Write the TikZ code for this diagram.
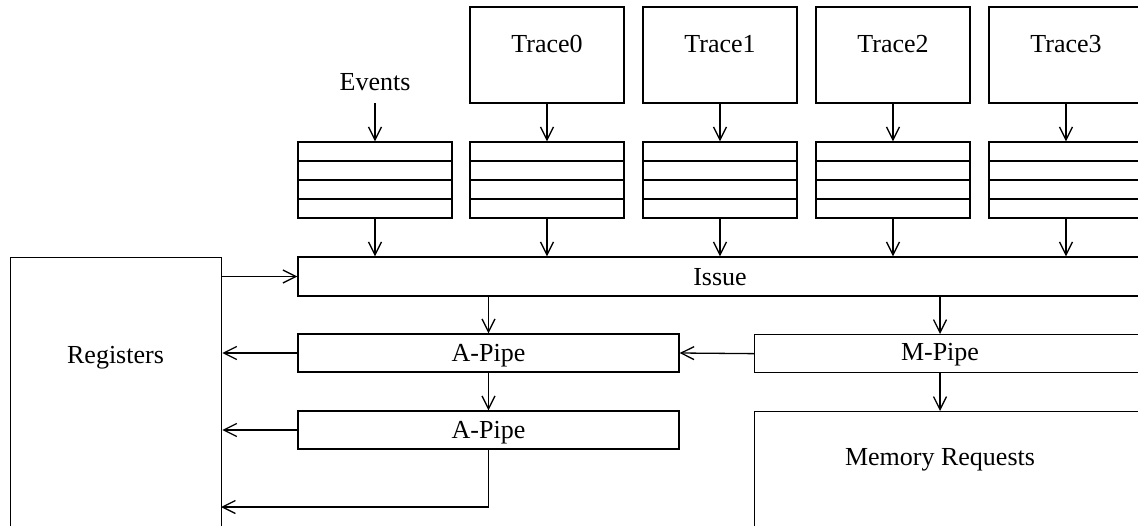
\documentclass[tikz,border=0pt]{standalone}
\usepackage{fontspec}
\setmainfont{Liberation Serif}
\usetikzlibrary{arrows.meta, calc}

\begin{document}
\begin{tikzpicture}[
    x=1pt, y=-1pt,
    box/.style={draw, line width=1.3pt, inner sep=0pt},
    txt/.style={font=\fontsize{26}{30}\selectfont, text height=17pt,
        text depth=0pt, inner sep=0pt},
    arr/.style={line width=1.3pt, -{Straight Barb[length=13pt, width=13pt]}},
    slot/.style={line width=1.8pt},
]
    \useasboundingbox (0,0) rectangle (1138,525);
    \clip (0,0) rectangle (1138,525);

    %% register file on the left, it runs off the bottom
    \node[box, anchor=north west, minimum width=211pt, minimum height=300pt]
        (regs) at (10,257) {};
    \node[txt] (regslbl) at (115.5,355) {Registers};

    %% issue stage and the pipes
    \node[box, txt, minimum width=844pt, minimum height=39pt]
        (issue) at (720,276.5) {Issue};
    \node[box, txt, minimum width=381pt, minimum height=38pt]
        (apipe1) at (488.5,353) {A-Pipe};
    \node[box, txt, minimum width=381pt, minimum height=38pt]
        (apipe2) at (488.5,430) {A-Pipe};
    \node[box, anchor=north west, minimum width=450pt, minimum height=38pt]
        (mpipe) at (754,334) {};
    \node[txt] (mpipelbl) at (940,352) {M-Pipe};
    \node[box, anchor=north west, minimum width=450pt, minimum height=200pt]
        (mem) at (754,411) {};
    \node[txt] (memlbl) at (940,456.5) {Memory Requests};

    %% the queues, one for the events and one per trace
    \foreach \name/\x in {evq/375, q0/547, q1/720, q2/893, q3/1066} {
        \node[box, minimum width=154pt, minimum height=76pt] (\name) at (\x,180) {};
        \foreach \k in {1,2,3}
            \draw[slot] ($(\name.north west)!\k/4!(\name.south west)$)
                -- ($(\name.north east)!\k/4!(\name.south east)$);
        \draw[arr] (\name.south) -- (\name.south |- issue.north);
    }

    %% traces feed their queues
    \foreach \i/\x in {0/547, 1/720, 2/893, 3/1066} {
        \node[box, minimum width=154pt, minimum height=96pt] (trace\i) at (\x,55) {};
        \node[txt] (tl\i) at (\x,44) {Trace\i};
        \draw[arr] (trace\i.south) -- (q\i.north);
    }
    \node[txt] (events) at (375,82) {Events};
    \coordinate (evin) at (375,103);
    \draw[arr] (evin) -- (evq.north);

    %% datapath
    \draw[arr] (issue.west -| regs.east) -- (issue.west);
    \draw[arr] (issue.south -| apipe1.north) -- (apipe1.north);
    \draw[arr] (issue.south -| mpipelbl) -- (mpipe.north -| mpipelbl);
    \draw[arr] (mpipe.west) -- (apipe1.east);
    \draw[arr] (apipe1.west) -- (apipe1.west -| regs.east);
    \draw[arr] (apipe1.south) -- (apipe2.north);
    \draw[arr] (apipe2.west) -- (apipe2.west -| regs.east);
    \coordinate (wb) at (221,507);
    \draw[arr] (apipe2.south) |- (wb);
    \draw[arr] (mpipe.south -| mpipelbl) -- (mem.north -| mpipelbl);
\end{tikzpicture}
\end{document}
